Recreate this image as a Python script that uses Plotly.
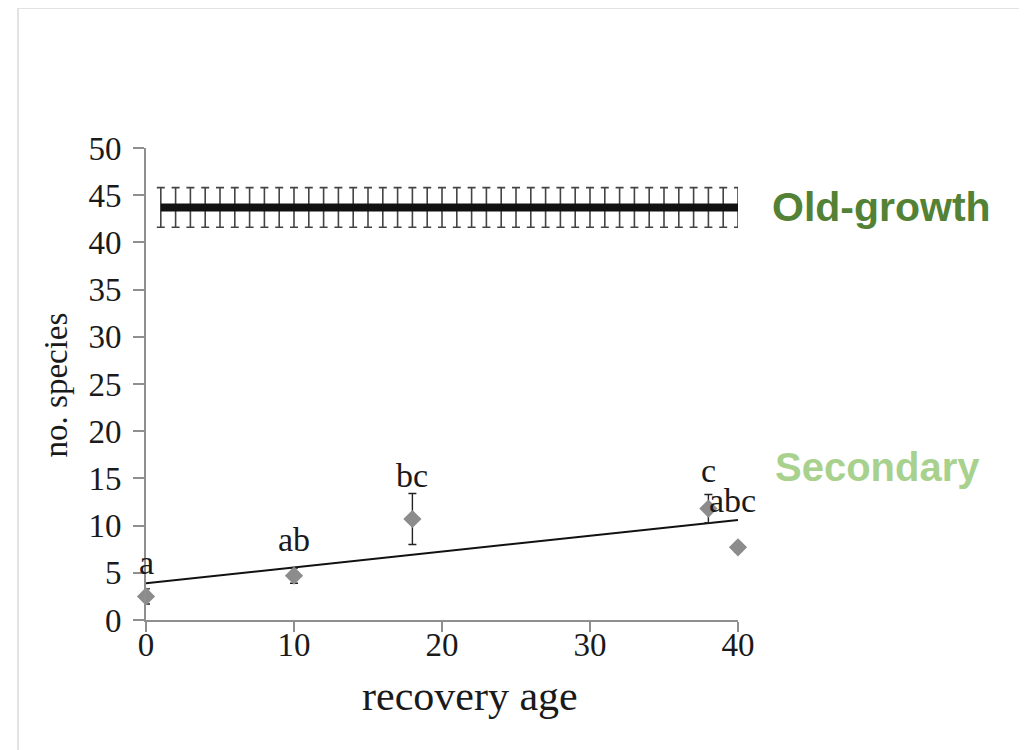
import plotly.graph_objects as go

# Old-growth reference (mean +/- error at each recovery age)
og_x = [1, 2, 3, 4, 5, 6, 7, 8, 9, 10, 11, 12, 13, 14, 15, 16, 17, 18, 19, 20,
        21, 22, 23, 24, 25, 26, 27, 28, 29, 30, 31, 32, 33, 34, 35, 36, 37, 38, 39, 40]
og_y = [43.7, 43.7, 43.7, 43.7, 43.7, 43.7, 43.7, 43.7, 43.7, 43.7,
        43.7, 43.7, 43.7, 43.7, 43.7, 43.7, 43.7, 43.7, 43.7, 43.7,
        43.7, 43.7, 43.7, 43.7, 43.7, 43.7, 43.7, 43.7, 43.7, 43.7,
        43.7, 43.7, 43.7, 43.7, 43.7, 43.7, 43.7, 43.7, 43.7, 43.7]
og_err = [2.1, 2.1, 2.1, 2.1, 2.1, 2.1, 2.1, 2.1, 2.1, 2.1,
          2.1, 2.1, 2.1, 2.1, 2.1, 2.1, 2.1, 2.1, 2.1, 2.1,
          2.1, 2.1, 2.1, 2.1, 2.1, 2.1, 2.1, 2.1, 2.1, 2.1,
          2.1, 2.1, 2.1, 2.1, 2.1, 2.1, 2.1, 2.1, 2.1, 2.1]

# Secondary forest sites
sec_x = [0, 10, 18, 38, 40]
sec_y = [2.5, 4.7, 10.7, 11.8, 7.7]
sec_err = [0.8, 0.8, 2.7, 1.5, 0.5]

# Significance letters
let_text = ["a", "ab", "bc", "c", "abc"]
let_x = [0, 10, 18, 38, 39.6]
let_y = [6.1, 8.5, 15.3, 15.8, 12.7]

# Linear trend
trend_x = [0, 40]
trend_y = [3.9, 10.6]

x_ticks = [0, 10, 20, 30, 40]
y_ticks = [0, 5, 10, 15, 20, 25, 30, 35, 40, 45, 50]

SERIF = "Liberation Serif, Times New Roman, serif"
SANS = "Liberation Sans, Arial, sans-serif"
AXCOL = "#8f8f8f"

fig = go.Figure()

fig.add_trace(go.Scatter(
    x=og_x, y=og_y, mode="lines",
    line=dict(color="#111111", width=8),
    error_y=dict(type="data", array=og_err, color="#444444", thickness=1.6, width=4),
    cliponaxis=False, showlegend=False, hoverinfo="skip"))

fig.add_trace(go.Scatter(
    x=trend_x, y=trend_y, mode="lines",
    line=dict(color="#111111", width=2),
    cliponaxis=False, showlegend=False, hoverinfo="skip"))

fig.add_trace(go.Scatter(
    x=sec_x, y=sec_y, mode="markers",
    marker=dict(symbol="diamond", size=14, color="#8c8c8c"),
    error_y=dict(type="data", array=sec_err, color="#222222", thickness=1.4, width=4),
    cliponaxis=False, showlegend=False))

annotations = []
for t, xx, yy in zip(let_text, let_x, let_y):
    annotations.append(dict(x=xx, y=yy, xref="x", yref="y", text=t, showarrow=False,
                            font=dict(family=SERIF, size=34, color="#1a1a1a"),
                            xanchor="center", yanchor="middle"))

annotations.append(dict(x=1.2416, y=0.875, xref="paper", yref="paper", text="<b>Old-growth</b>",
                        showarrow=False, font=dict(family=SANS, size=41, color="#538135"),
                        xanchor="center", yanchor="middle"))
annotations.append(dict(x=1.235, y=0.324, xref="paper", yref="paper", text="<b>Secondary</b>",
                        showarrow=False, font=dict(family=SANS, size=40, color="#a9d18e"),
                        xanchor="center", yanchor="middle"))
annotations.append(dict(x=0.547, y=-0.16, xref="paper", yref="paper", text="recovery age",
                        showarrow=False, font=dict(family=SERIF, size=42, color="#1a1a1a"),
                        xanchor="center", yanchor="middle"))
annotations.append(dict(x=-0.152, y=0.497, xref="paper", yref="paper", text="no. species",
                        showarrow=False, textangle=-90,
                        font=dict(family=SERIF, size=33, color="#1a1a1a"),
                        xanchor="center", yanchor="middle"))

fig.update_layout(
    width=1027, height=750,
    margin=dict(l=138, r=297, t=140, b=138),
    paper_bgcolor="white", plot_bgcolor="white",
    annotations=annotations,
    shapes=[dict(type="rect", xref="paper", yref="paper",
                 x0=-0.2162, x1=1.478, y0=-0.35, y1=1.2966,
                 line=dict(color="#e2e2e2", width=2), layer="below")],
    xaxis=dict(range=[0, 40], tickvals=x_ticks, showgrid=False, zeroline=False,
               showline=True, linecolor=AXCOL, linewidth=2,
               ticks="outside", ticklen=10, tickwidth=2, tickcolor=AXCOL,
               ticklabelstandoff=-16,
               tickfont=dict(family=SERIF, size=33, color="#1a1a1a")),
    yaxis=dict(range=[0, 50], tickvals=y_ticks, showgrid=False, zeroline=False,
               showline=True, linecolor=AXCOL, linewidth=2,
               ticks="outside", ticklen=11, tickwidth=2, tickcolor=AXCOL,
               ticklabelstandoff=5,
               tickfont=dict(family=SERIF, size=33, color="#1a1a1a")),
)

fig.write_html("out.html")
